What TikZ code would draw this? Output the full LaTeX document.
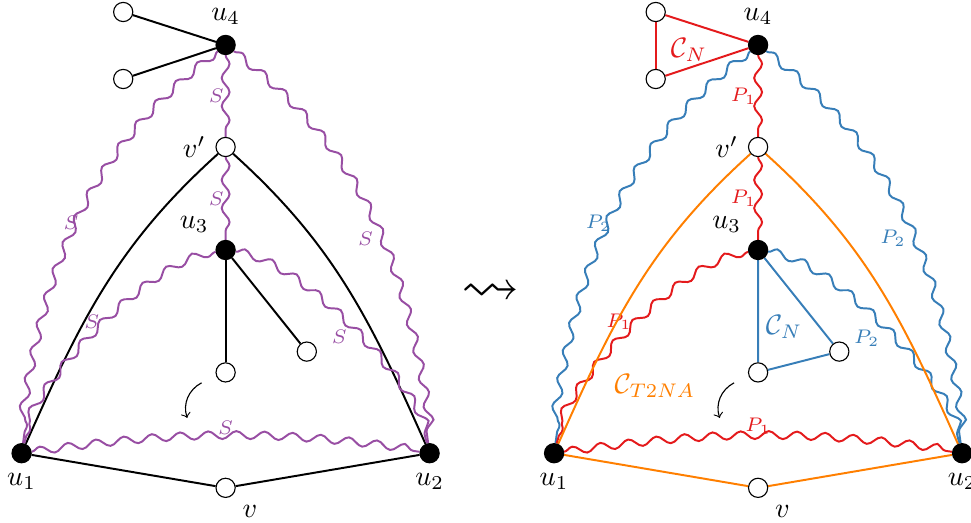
\documentclass[tikz,border=0pt]{standalone}
\usepackage{amsmath,amssymb}
\usepackage{tikz}
\usetikzlibrary{decorations.pathmorphing,backgrounds}
\definecolor{setred}{HTML}{E41A1C}
\definecolor{setblue}{HTML}{377EB8}
\definecolor{setpurple}{HTML}{984EA3}
\definecolor{setorange}{HTML}{FF7F00}
\tikzset{
    wvert/.style={circle, draw, fill=white, minimum size=0.24cm, inner sep=0pt},
    bvert/.style={wvert, fill=black},
    edge/.style={line width=0.7pt},
    wavy/.style={line width=0.7pt, decorate,
        decoration={snake, amplitude=1.4pt, segment length=10pt}},
    plbl/.style={font=\scriptsize, inner sep=0.3pt},
    hint/.style={->, thin}
}

\begin{document}
\begin{tikzpicture}
    \useasboundingbox (0,0) rectangle (12.1375,6.525);
    % left graph
    \node[bvert,label=above:$u_4$] (u4) at (2.82,5.9625) {};
    \node[wvert] (w1) at (1.54,6.375) {};
    \node[wvert] (w2) at (1.54,5.5375) {};
    \node[wvert,label=left:$v'$] (vp) at (2.82,4.6875) {};
    \node[bvert,label=above left:$u_3$] (u3) at (2.82,3.4) {};
    \node[wvert] (a) at (2.82,1.87) {};
    \node[wvert] (b) at (3.835,2.13) {};
    \node[bvert,label=below:$u_1$] (u1) at (0.27,0.86) {};
    \node[bvert,label=below:$u_2$] (u2) at (5.37,0.86) {};
    \node[wvert,label=below right:$v$] (v) at (2.82,0.427) {};
    \coordinate (hs) at (2.52,1.74);
    \coordinate (he) at (2.34,1.30);
    \begin{scope}[on background layer]
        \draw[edge] (w1) -- (u4);
        \draw[edge] (w2) -- (u4);
        \draw[edge] (u3) -- (a);
        \draw[edge] (u3) -- (b);
        \draw[edge] (u1) -- (v) -- (u2);
        \draw[edge] (vp) to[out=222,in=66] (u1);
        \draw[edge] (vp) to[out=-42,in=114] (u2);
        \draw[wavy,setpurple] (u4) -- node[plbl,left]{$S$} (vp);
        \draw[wavy,setpurple] (vp) -- node[plbl,left]{$S$} (u3);
        \draw[wavy,setpurple] (u4) to[out=218,in=82] node[plbl,pos=0.5,left=-0.6pt]{$S$} (u1);
        \draw[wavy,setpurple] (u4) to[out=-38,in=98] node[plbl,pos=0.54,left=1.5pt]{$S$} (u2);
        \draw[wavy,setpurple] (u3) to[out=190,in=75,looseness=0.6] node[plbl,pos=0.47,left=3pt]{$S$} (u1);
        \draw[wavy,setpurple] (u3) to[out=-10,in=105,looseness=0.6] node[plbl,pos=0.5,below left]{$S$} (u2);
        \draw[wavy,setpurple] (u1) to[bend left=8] node[plbl,above]{$S$} (u2);
    \end{scope}
    \draw[hint] (hs) to[bend right=40] (he);

    \node (leadsto) at (6.1375,2.8625) {\huge$\rightsquigarrow$};

    % right graph
    \begin{scope}[xshift=6.656cm]
        \node[bvert,label=above:$u_4$] (u4R) at (2.82,5.9625) {};
        \node[wvert] (w1R) at (1.54,6.375) {};
        \node[wvert] (w2R) at (1.54,5.5375) {};
        \node[wvert,label=left:$v'$] (vpR) at (2.82,4.6875) {};
        \node[bvert,label=above left:$u_3$] (u3R) at (2.82,3.4) {};
        \node[wvert] (aR) at (2.82,1.87) {};
        \node[wvert] (bR) at (3.835,2.13) {};
        \node[bvert,label=below:$u_1$] (u1R) at (0.27,0.86) {};
        \node[bvert,label=below:$u_2$] (u2R) at (5.37,0.86) {};
        \node[wvert,label=below right:$v$] (vR) at (2.82,0.427) {};
        \node[text=setred] (cnTop) at (1.956,5.9) {$\mathcal{C}_N$};
        \node[text=setblue] (cnBot) at (3.144,2.4375) {$\mathcal{C}_N$};
        \node[text=setorange] (cT) at (1.531,1.7) {$\mathcal{C}_{T2NA}$};
        \coordinate (hsR) at (2.52,1.74);
        \coordinate (heR) at (2.34,1.30);
        \begin{scope}[on background layer]
            \draw[edge,setred] (w1R) -- (w2R);
            \draw[edge,setred] (w1R) -- (u4R);
            \draw[edge,setred] (w2R) -- (u4R);
            \draw[edge,setblue] (u3R) -- (aR) -- (bR) -- (u3R);
            \draw[wavy,setred] (u4R) -- node[plbl,left]{$P_1$} (vpR);
            \draw[wavy,setred] (vpR) -- node[plbl,left]{$P_1$} (u3R);
            \draw[wavy,setblue] (u4R) to[out=218,in=82] node[plbl,pos=0.5,left=-0.6pt]{$P_2$} (u1R);
            \draw[wavy,setblue] (u4R) to[out=-38,in=98] node[plbl,pos=0.54,left=1.5pt]{$P_2$} (u2R);
            \draw[wavy,setred] (u3R) to[out=190,in=75,looseness=0.6] node[plbl,pos=0.47,left=3pt]{$P_1$} (u1R);
            \draw[wavy,setblue] (u3R) to[out=-10,in=105,looseness=0.6] node[plbl,pos=0.5,below left]{$P_2$} (u2R);
            \draw[wavy,setred] (u1R) to[bend left=8] node[plbl,above]{$P_1$} (u2R);
            \draw[edge,setorange] (vpR) to[out=222,in=66] (u1R);
            \draw[edge,setorange] (vpR) to[out=-42,in=114] (u2R);
            \draw[edge,setorange] (u1R) -- (vR) -- (u2R);
        \end{scope}
        \draw[hint] (hsR) to[bend right=40] (heR);
    \end{scope}
\end{tikzpicture}
\end{document}
